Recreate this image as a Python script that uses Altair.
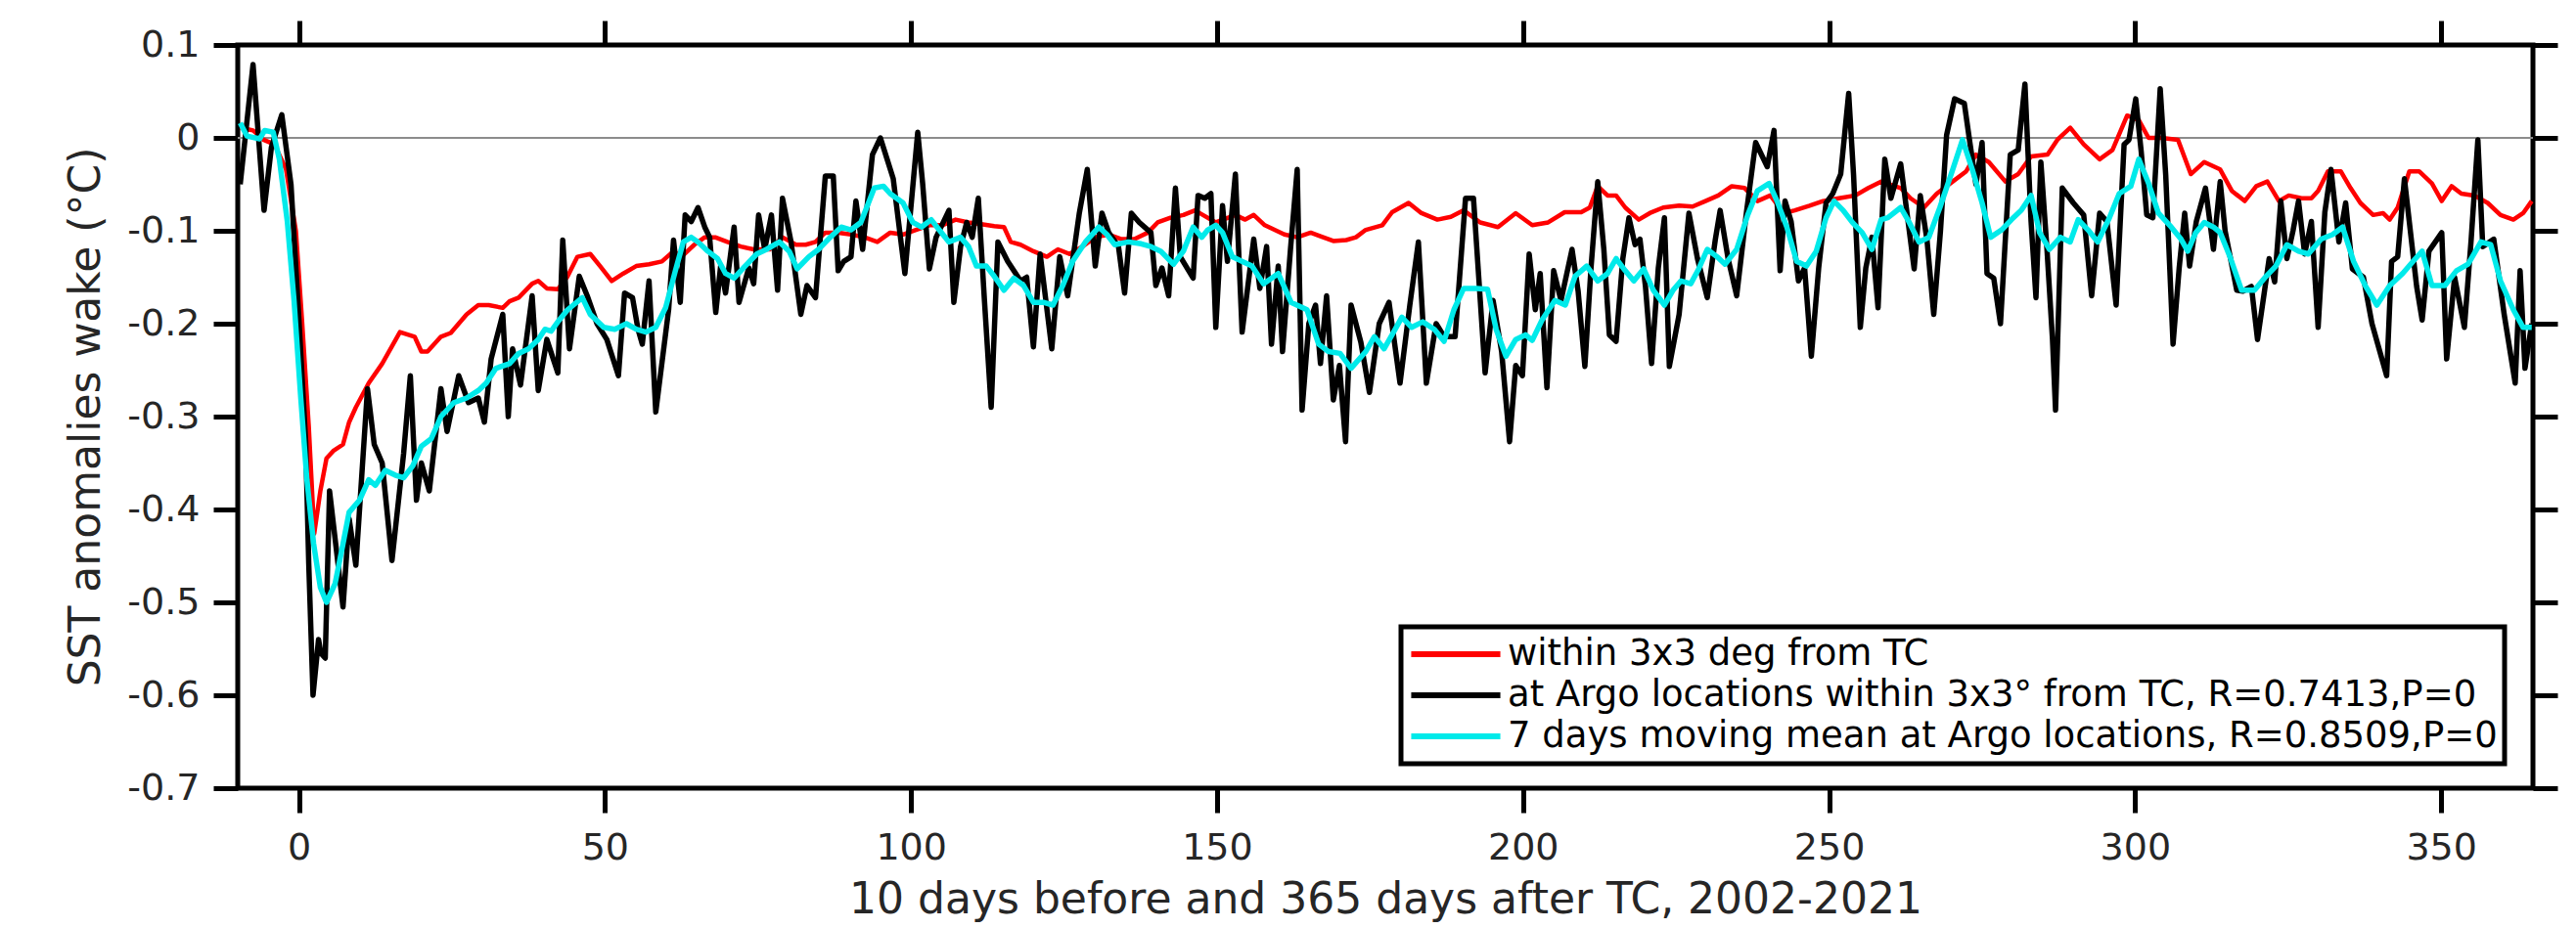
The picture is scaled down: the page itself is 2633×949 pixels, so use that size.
import altair as alt
import pandas as pd

# ---------------- data ----------------
series_labels = [
    "within 3x3 deg from TC",
    "at Argo locations within 3x3° from TC, R=0.7413,P=0",
    "7 days moving mean at Argo locations, R=0.8509,P=0",
]
series_colors = ["#ff0000", "#000000", "#00eaea"]

x_ticks = [0, 50, 100, 150, 200, 250, 300, 350]
y_ticks = [0.1, 0.0, -0.1, -0.2, -0.3, -0.4, -0.5, -0.6, -0.7]
zero_level = [0.0]

red_day = [-9.6, -7.5, -5.8, -4.0, -2.1, -0.5, 0.5, 1.6, 2.5, 3.5, 4.5, 5.6, 7.2, 8.2, 9.3,
           11.4, 13.6, 15.4, 16.5, 18.9, 20.0, 21.0, 23.2, 24.8, 27.4, 29.3, 31.0, 33.3, 34.4,
           35.9, 38.1, 39.1, 40.5, 42.3, 43.9, 45.5, 47.6, 49.2, 51.1, 53.0, 55.1, 57.2, 59.3,
           61.2, 62.5, 64.6, 66.3, 68.0, 70.0, 72.2, 74.3, 76.9, 79.0, 81.2, 82.8, 84.4, 86.0,
           88.1, 90.2, 92.4, 94.5, 96.6, 98.7, 100.8, 103.0, 105.1, 107.3, 109.4, 111.5, 113.6,
           115.2, 116.3, 117.9, 120.0, 122.2, 124.0, 125.9, 128.0, 130.1, 132.3, 134.4, 136.5,
           138.7, 140.3, 142.4, 144.5, 146.4, 147.7, 149.8, 153.0, 154.6, 156.0, 157.8, 161.0,
           163.1, 165.3, 166.9, 169.0, 171.1, 172.7, 174.3, 177.0, 178.6, 181.3, 183.4, 186.0,
           188.2, 190.3, 193.0, 195.9, 198.8, 201.5, 204.1, 206.8, 209.5, 210.9, 212.2, 213.8,
           215.2, 216.7, 218.9, 220.7, 222.9, 225.5, 227.7, 229.8, 231.9, 234.1, 236.2, 238.3,
           240.4, 242.6, 244.4, 246.8, 249.0, 251.6, 254.3, 256.4, 258.5, 261.7, 263.3, 265.5,
           267.6, 270.2, 272.4, 274.0, 276.1, 278.8, 280.9, 283.0, 285.7, 287.3, 289.4, 291.6,
           294.2, 296.3, 298.7, 300.6, 302.2, 304.3, 307.0, 309.1, 311.3, 313.9, 315.8, 317.9,
           319.8, 321.6, 323.5, 325.1, 327.2, 328.8, 329.9, 331.5, 333.6, 335.2, 336.8, 338.9,
           340.5, 341.6, 342.9, 344.8, 346.4, 348.5, 350.1, 351.7, 353.3, 355.4, 357.6, 359.7,
           361.8, 363.4, 364.8]
red_val = [0.011, 0.008, -0.002, -0.007, -0.034, -0.100, -0.196, -0.310, -0.426, -0.380, -0.345,
           -0.337, -0.330, -0.306, -0.290, -0.264, -0.243, -0.222, -0.209, -0.214, -0.230, -0.230,
           -0.214, -0.210, -0.190, -0.180, -0.180, -0.183, -0.176, -0.172, -0.157, -0.154, -0.162,
           -0.163, -0.149, -0.128, -0.125, -0.138, -0.154, -0.146, -0.138, -0.136, -0.133, -0.122,
           -0.128, -0.115, -0.107, -0.107, -0.112, -0.117, -0.120, -0.120, -0.107, -0.115, -0.115,
           -0.112, -0.102, -0.102, -0.104, -0.107, -0.112, -0.102, -0.104, -0.099, -0.094, -0.094,
           -0.088, -0.091, -0.093, -0.095, -0.096, -0.112, -0.115, -0.122, -0.128, -0.120, -0.125,
           -0.117, -0.107, -0.104, -0.109, -0.109, -0.102, -0.091, -0.086, -0.083, -0.078, -0.083,
           -0.091, -0.083, -0.088, -0.083, -0.094, -0.104, -0.107, -0.102, -0.106, -0.111, -0.110,
           -0.107, -0.099, -0.094, -0.080, -0.070, -0.081, -0.088, -0.085, -0.078, -0.091, -0.096,
           -0.081, -0.094, -0.091, -0.080, -0.080, -0.075, -0.052, -0.062, -0.062, -0.075, -0.088,
           -0.081, -0.075, -0.073, -0.074, -0.068, -0.062, -0.052, -0.054, -0.068, -0.062, -0.081,
           -0.078, -0.073, -0.068, -0.065, -0.062, -0.054, -0.047, -0.054, -0.065, -0.075, -0.060,
           -0.047, -0.036, -0.018, -0.026, -0.047, -0.039, -0.020, -0.018, -0.002, 0.011, -0.007,
           -0.023, -0.013, 0.024, 0.019, 0.000, 0.000, -0.002, -0.039, -0.026, -0.034, -0.057,
           -0.068, -0.052, -0.047, -0.068, -0.062, -0.065, -0.065, -0.057, -0.036, -0.036, -0.054,
           -0.070, -0.083, -0.081, -0.088, -0.075, -0.036, -0.036, -0.049, -0.068, -0.052, -0.060,
           -0.062, -0.070, -0.083, -0.088, -0.081, -0.068]

black_day = [-9.6, -7.5, -5.7, -4.5, -2.8, -1.3, 0.0, 1.1, 1.6, 2.3, 3.2, 3.6, 4.3, 5.0, 7.2, 8.2,
             9.3, 11.2, 12.3, 13.6, 15.2, 17.1, 18.2, 19.2, 20.0, 21.3, 23.2, 24.2, 26.1, 27.7,
             29.3, 30.3, 31.4, 33.3, 34.2, 34.9, 36.2, 38.1, 39.1, 40.5, 42.3, 43.1, 44.2, 45.8,
             47.1, 48.7, 50.3, 52.2, 53.2, 54.5, 55.4, 56.1, 57.2, 58.3, 60.4, 61.2, 62.3, 63.1,
             64.1, 65.2, 66.3, 67.1, 68.1, 68.9, 69.7, 71.1, 71.9, 73.5, 74.3, 75.1, 76.1, 77.2,
             78.2, 79.0, 80.4, 82.0, 83.0, 84.4, 86.0, 87.3, 88.1, 89.0, 90.2, 91.0, 92.1, 93.7,
             95.0, 96.1, 97.1, 99.0, 101.1, 101.9, 103.0, 104.1, 106.2, 107.0, 108.1, 109.1, 110.0,
             111.0, 112.0, 113.1, 114.2, 115.8, 117.9, 118.9, 120.0, 121.1, 123.0, 124.3, 125.6,
             127.5, 128.8, 130.1, 131.2, 132.3, 133.9, 134.9, 136.0, 137.3, 139.2, 140.0, 141.0,
             142.1, 143.2, 144.0, 146.1, 146.9, 148.0, 149.0, 149.8, 150.9, 151.7, 153.0, 154.1,
             156.0, 157.0, 158.1, 158.9, 160.0, 160.7, 162.0, 163.1, 163.9, 165.0, 166.1, 166.9,
             167.9, 169.0, 170.0, 171.0, 171.9, 173.5, 174.9, 176.5, 178.1, 179.9, 181.5, 182.9,
             184.2, 185.8, 187.1, 188.9, 190.6, 191.9, 193.8, 195.1, 196.5, 197.8, 198.8, 199.9,
             201.0, 202.0, 202.8, 203.9, 205.0, 206.2, 208.0, 209.0, 210.1, 211.1, 212.2, 213.2,
             214.1, 215.2, 216.3, 217.3, 218.3, 219.1, 220.0, 221.0, 222.1, 223.1, 223.9, 225.5,
             227.1, 228.5, 230.1, 231.4, 232.2, 233.5, 234.9, 236.5, 238.0, 239.9, 241.0, 242.0,
             242.8, 243.8, 245.0, 246.0, 247.1, 248.3, 249.5, 250.6, 251.9, 253.2, 254.0, 255.1,
             256.0, 257.0, 258.0, 259.1, 260.1, 261.7, 263.9, 264.9, 266.0, 267.1, 268.2, 269.2,
             270.5, 272.1, 273.0, 274.0, 275.0, 275.8, 276.9, 278.0, 279.6, 280.9, 282.0, 283.0,
             283.8, 284.6, 285.6, 286.5, 287.0, 288.1, 289.9, 291.6, 292.9, 294.2, 295.4, 296.9,
             298.2, 299.0, 300.1, 301.0, 301.9, 302.9, 304.1, 305.0, 306.2, 307.2, 308.1, 308.9,
             310.0, 311.5, 312.8, 313.9, 314.7, 316.6, 317.6, 319.0, 320.0, 321.9, 322.8, 323.8,
             324.8, 325.8, 326.7, 327.7, 328.8, 329.9, 331.0, 332.0, 333.3, 334.4, 335.5, 337.3,
             338.7, 341.1, 341.9, 342.9, 344.0, 346.0, 346.9, 348.0, 350.1, 350.9, 352.2, 353.8,
             354.9, 356.0, 356.8, 358.6, 360.3, 362.1, 362.9, 363.7, 364.8]
black_val = [-0.050, 0.079, -0.078, -0.010, 0.025, -0.050, -0.196, -0.327, -0.458, -0.600, -0.540,
             -0.555, -0.560, -0.380, -0.505, -0.410, -0.460, -0.270, -0.330, -0.350, -0.455, -0.340,
             -0.256, -0.390, -0.350, -0.380, -0.270, -0.316, -0.256, -0.285, -0.280, -0.306, -0.238,
             -0.190, -0.300, -0.227, -0.266, -0.170, -0.272, -0.217, -0.253, -0.110, -0.227, -0.149,
             -0.170, -0.200, -0.217, -0.256, -0.167, -0.172, -0.206, -0.222, -0.154, -0.295, -0.185,
             -0.110, -0.177, -0.083, -0.090, -0.075, -0.096, -0.107, -0.188, -0.138, -0.167, -0.096,
             -0.177, -0.140, -0.157, -0.083, -0.120, -0.083, -0.164, -0.065, -0.112, -0.190, -0.159,
             -0.172, -0.041, -0.041, -0.143, -0.133, -0.128, -0.068, -0.120, -0.018, 0.000, -0.023,
             -0.044, -0.146, 0.006, -0.049, -0.141, -0.107, -0.078, -0.177, -0.117, -0.091, -0.107,
             -0.065, -0.175, -0.290, -0.112, -0.133, -0.154, -0.150, -0.225, -0.125, -0.227, -0.128,
             -0.170, -0.081, -0.034, -0.138, -0.081, -0.102, -0.117, -0.167, -0.081, -0.091, -0.102,
             -0.159, -0.140, -0.170, -0.054, -0.128, -0.151, -0.062, -0.065, -0.060, -0.204, -0.073,
             -0.133, -0.039, -0.209, -0.109, -0.162, -0.117, -0.222, -0.138, -0.230, -0.120, -0.034,
             -0.293, -0.200, -0.180, -0.243, -0.170, -0.282, -0.245, -0.327, -0.180, -0.220, -0.274,
             -0.200, -0.177, -0.264, -0.180, -0.112, -0.264, -0.200, -0.214, -0.214, -0.065, -0.065,
             -0.253, -0.175, -0.230, -0.327, -0.245, -0.256, -0.125, -0.185, -0.146, -0.269, -0.143,
             -0.175, -0.120, -0.165, -0.246, -0.140, -0.047, -0.120, -0.212, -0.219, -0.130, -0.086,
             -0.115, -0.109, -0.160, -0.243, -0.140, -0.086, -0.246, -0.190, -0.081, -0.130, -0.172,
             -0.110, -0.078, -0.130, -0.170, -0.080, -0.005, -0.031, 0.008, -0.143, -0.068, -0.090,
             -0.154, -0.140, -0.235, -0.140, -0.070, -0.060, -0.039, 0.048, -0.040, -0.204, -0.140,
             -0.107, -0.183, -0.023, -0.065, -0.028, -0.141, -0.062, -0.110, -0.190, -0.100, 0.003,
             0.042, 0.037, -0.005, -0.050, -0.005, -0.146, -0.151, -0.200, -0.018, -0.013, 0.058,
             -0.090, -0.172, -0.026, -0.120, -0.217, -0.293, -0.054, -0.070, -0.083, -0.170, -0.081,
             -0.090, -0.180, -0.007, -0.002, 0.042, -0.015, -0.083, -0.086, 0.053, -0.040, -0.222,
             -0.140, -0.081, -0.138, -0.090, -0.054, -0.120, -0.047, -0.100, -0.164, -0.165, -0.160,
             -0.217, -0.130, -0.155, -0.068, -0.130, -0.100, -0.068, -0.125, -0.090, -0.204, -0.080,
             -0.034, -0.112, -0.070, -0.141, -0.150, -0.200, -0.256, -0.133, -0.128, -0.044, -0.160,
             -0.196, -0.122, -0.102, -0.238, -0.150, -0.204, -0.110, -0.002, -0.117, -0.109, -0.190,
             -0.264, -0.143, -0.248, -0.200]

cyan_day = [-9.6, -8.5, -6.4, -5.6, -4.2, -3.2, -1.9, -0.8, 0.3, 1.3, 2.4, 3.5, 4.5, 5.9, 7.2, 8.2,
            9.9, 11.4, 12.5, 14.1, 15.7, 17.1, 18.6, 20.0, 21.6, 23.2, 25.3, 27.4, 29.3, 30.6, 32.2,
            34.4, 35.9, 37.5, 39.1, 40.2, 41.2, 42.3, 43.9, 46.3, 47.6, 49.8, 51.6, 53.5, 55.1, 56.7,
            58.3, 59.9, 61.5, 62.8, 64.1, 65.2, 66.8, 68.4, 69.7, 71.1, 72.9, 74.8, 76.4, 78.5, 80.1,
            81.4, 83.3, 84.9, 86.8, 88.6, 90.2, 91.8, 94.0, 95.5, 96.6, 98.7, 100.3, 101.7, 103.3,
            104.6, 106.2, 108.1, 109.4, 110.7, 112.3, 113.6, 115.2, 116.8, 118.4, 120.0, 121.6,
            123.2, 124.8, 126.4, 128.5, 130.7, 132.0, 133.3, 135.5, 137.6, 139.2, 140.8, 142.9,
            144.5, 146.1, 147.5, 148.5, 149.8, 150.9, 152.5, 155.7, 157.6, 160.0, 162.1, 164.7,
            166.6, 168.2, 170.1, 171.9, 174.3, 175.7, 177.3, 178.6, 180.2, 181.8, 183.6, 185.5,
            187.1, 188.7, 190.3, 192.4, 194.2, 195.6, 197.2, 198.8, 200.4, 201.5, 203.1, 205.2,
            206.9, 208.5, 210.4, 212.2, 213.8, 215.2, 216.7, 218.1, 219.7, 221.3, 223.1, 224.5,
            225.8, 227.4, 228.7, 230.1, 231.7, 233.0, 234.9, 236.7, 238.3, 240.2, 241.5, 243.1,
            244.7, 246.3, 247.9, 249.5, 250.8, 252.3, 253.8, 255.4, 257.0, 258.5, 259.6, 261.7,
            263.1, 264.7, 266.3, 268.1, 270.2, 271.8, 273.4, 275.0, 276.4, 278.2, 279.8, 281.4,
            283.0, 284.4, 286.0, 287.8, 289.4, 290.7, 292.3, 293.9, 295.8, 297.4, 299.3, 300.6,
            302.2, 303.8, 305.9, 307.5, 308.6, 309.9, 311.3, 312.8, 313.9, 315.5, 317.4, 319.5,
            321.4, 323.0, 324.8, 326.7, 328.3, 330.4, 332.3, 333.9, 335.7, 337.6, 339.5, 341.6,
            343.7, 345.8, 346.9, 348.5, 350.6, 352.5, 354.4, 356.5, 358.1, 359.7, 361.8, 363.4,
            364.8]
cyan_val = [0.016, 0.002, -0.001, 0.008, 0.006, -0.023, -0.090, -0.175, -0.280, -0.368, -0.437,
            -0.484, -0.500, -0.480, -0.437, -0.403, -0.390, -0.368, -0.374, -0.358, -0.363, -0.366,
            -0.353, -0.332, -0.324, -0.300, -0.285, -0.280, -0.272, -0.264, -0.248, -0.243, -0.232,
            -0.227, -0.217, -0.206, -0.208, -0.198, -0.185, -0.172, -0.190, -0.204, -0.206, -0.200,
            -0.206, -0.209, -0.204, -0.183, -0.143, -0.112, -0.107, -0.112, -0.122, -0.130, -0.146,
            -0.151, -0.138, -0.125, -0.120, -0.112, -0.122, -0.141, -0.128, -0.120, -0.107, -0.096,
            -0.099, -0.091, -0.054, -0.052, -0.060, -0.070, -0.091, -0.096, -0.088, -0.099, -0.112,
            -0.107, -0.117, -0.138, -0.138, -0.149, -0.164, -0.151, -0.159, -0.177, -0.177, -0.180,
            -0.159, -0.133, -0.112, -0.096, -0.104, -0.115, -0.112, -0.114, -0.117, -0.122, -0.136,
            -0.122, -0.096, -0.107, -0.099, -0.094, -0.102, -0.128, -0.138, -0.157, -0.146, -0.177,
            -0.185, -0.222, -0.230, -0.232, -0.248, -0.230, -0.214, -0.227, -0.212, -0.193, -0.204,
            -0.198, -0.206, -0.219, -0.185, -0.162, -0.162, -0.163, -0.206, -0.235, -0.217, -0.212,
            -0.218, -0.196, -0.175, -0.180, -0.149, -0.138, -0.154, -0.146, -0.130, -0.143, -0.154,
            -0.141, -0.164, -0.180, -0.164, -0.154, -0.157, -0.141, -0.120, -0.128, -0.136, -0.120,
            -0.083, -0.057, -0.049, -0.068, -0.096, -0.133, -0.138, -0.122, -0.086, -0.068, -0.078,
            -0.091, -0.102, -0.120, -0.088, -0.086, -0.075, -0.091, -0.112, -0.107, -0.075, -0.034,
            -0.002, -0.034, -0.070, -0.107, -0.099, -0.088, -0.078, -0.062, -0.102, -0.120, -0.107,
            -0.112, -0.088, -0.099, -0.112, -0.086, -0.060, -0.052, -0.023, -0.049, -0.081, -0.096,
            -0.109, -0.122, -0.102, -0.091, -0.096, -0.102, -0.128, -0.164, -0.164, -0.149, -0.138,
            -0.115, -0.122, -0.125, -0.109, -0.104, -0.096, -0.133, -0.159, -0.180, -0.159, -0.146,
            -0.130, -0.122, -0.159, -0.159, -0.143, -0.136, -0.112, -0.115, -0.154, -0.185, -0.204,
            -0.204]

# ---------------- layout constants ----------------
W, H = 2346, 760
PAD = {"left": 243, "top": 46, "right": 2633 - 243 - W, "bottom": 949 - 46 - H}
FONT = "DejaVu Sans"
TXT = "#262626"


def frame(days, vals, label):
    return pd.DataFrame({"day": days, "sst": vals, "series": label})


red_df = frame(red_day, red_val, series_labels[0])
black_df = frame(black_day, black_val, series_labels[1])
cyan_df = frame(cyan_day, cyan_val, series_labels[2])
zero_df = pd.DataFrame({"level": zero_level})

xscale = alt.Scale(domain=[-10, 365], nice=False, zero=False)
yscale = alt.Scale(domain=[-0.7, 0.1], nice=False, zero=False)

y_label_expr = ("abs(datum.value) < 1e-9 ? '0' : (datum.value < 0 ? '-' + format(-datum.value, '.1f')"
                " : format(datum.value, '.1f'))")

legend = alt.Legend(
    orient="none", legendX=1432 - 243, legendY=641 - 46, direction="vertical",
    labelFont=FONT, labelFontSize=37, labelColor="#000000", labelLimit=2000, labelOffset=4,
    symbolType="stroke", symbolSize=8300, symbolStrokeWidth=6, clipHeight=42,
    strokeColor="#000000", fillColor="#ffffff", padding=7, rowPadding=0,
)
color = alt.Color("series:N", scale=alt.Scale(domain=series_labels, range=series_colors),
                  legend=legend, title=None)

x_bottom = alt.Axis(orient="bottom", values=x_ticks, format="d", title="10 days before and 365 days after TC, 2002-2021",
                    labelPadding=17, titleX=W / 2, titleY=114, titleAlign="center", titleBaseline="middle",
                    titleFontSize=44)
y_left = alt.Axis(orient="left", values=y_ticks, labelExpr=y_label_expr, title="SST anomalies wake (°C)",
                  labelPadding=14, titleX=-155, titleY=H / 2, titleAngle=-90, titleAlign="center",
                  titleBaseline="middle", titleFontSize=44)
x_top = alt.Axis(orient="top", values=x_ticks, labels=False, title=None)
y_right = alt.Axis(orient="right", values=y_ticks, labels=False, title=None)

zero_rule = alt.Chart(zero_df).mark_rule(color="#8c8c8c", strokeWidth=2).encode(
    y=alt.Y("level:Q", scale=yscale, axis=None)
)

red_line = alt.Chart(red_df).mark_line(strokeWidth=4.5, strokeJoin="round").encode(
    x=alt.X("day:Q", scale=xscale, axis=x_bottom),
    y=alt.Y("sst:Q", scale=yscale, axis=y_left),
    color=color,
)
black_line = alt.Chart(black_df).mark_line(strokeWidth=5.5, strokeJoin="round").encode(
    x=alt.X("day:Q", scale=xscale, axis=x_top),
    y=alt.Y("sst:Q", scale=yscale, axis=y_right),
    color=color,
)
cyan_line = alt.Chart(cyan_df).mark_line(strokeWidth=5.5, strokeJoin="round").encode(
    x=alt.X("day:Q", scale=xscale, axis=None),
    y=alt.Y("sst:Q", scale=yscale, axis=None),
    color=color,
)

chart = (
    alt.layer(zero_rule, red_line, black_line, cyan_line)
    .resolve_axis(x="independent", y="independent")
    .properties(width=W, height=H, padding=PAD, autosize=alt.AutoSizeParams(type="none"),
                background="#ffffff")
    .configure_view(stroke="#000000", strokeWidth=5)
    .configure_axis(domain=False, grid=False, tickColor="#000000", tickWidth=5, tickSize=25,
                    labelFont=FONT, labelFontSize=38, labelColor=TXT, titleFont=FONT,
                    titleColor=TXT, titleFontWeight="normal")
    .configure_legend(strokeWidth=5)
)

chart.save("out.html", embed_options={"renderer": "svg", "actions": False})
